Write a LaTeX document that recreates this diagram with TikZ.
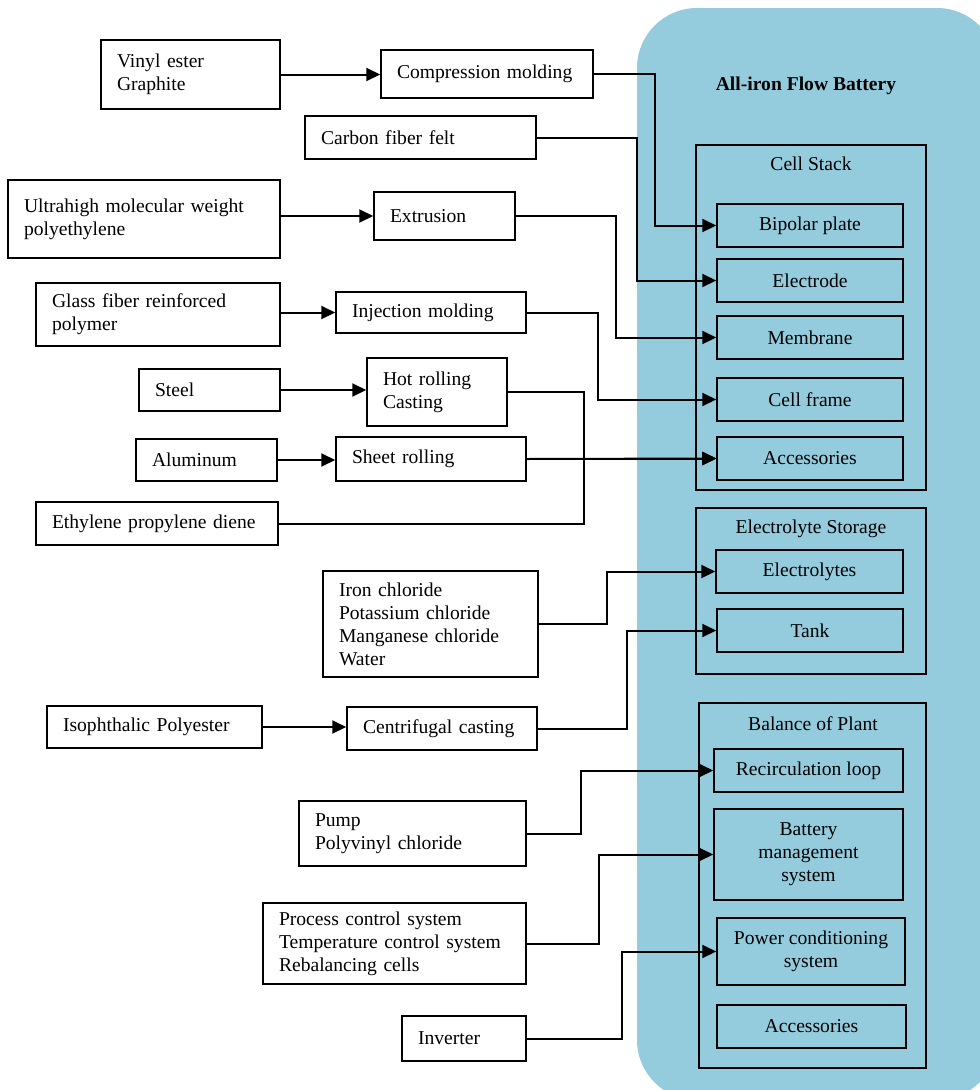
\documentclass[tikz,border=0pt]{standalone}
\usepackage{fontspec}
\setmainfont{Liberation Serif}
\usetikzlibrary{arrows.meta}
\definecolor{bgblue}{RGB}{148,204,221}
\begin{document}
\begin{tikzpicture}[x=1pt,y=-1pt,
  every node/.style={font=\fontsize{19.6}{23}\selectfont},
  lbox/.style={draw, line width=1.5pt, fill=white, inner xsep=16pt, inner ysep=2pt, align=left},
  rbox/.style={draw, line width=1.5pt, inner sep=2pt, align=center, minimum width=186pt, minimum height=43pt},
  cont/.style={draw, line width=1.5pt, inner sep=0pt},
  conn/.style={line width=2pt},
  arr/.style={conn, -{Triangle[length=14pt,width=13pt]}}
]
\useasboundingbox (0,0) rectangle (980,1090);
\begin{scope}
  \clip (0,0) rectangle (980,1090);
  \fill[bgblue, rounded corners=60pt] (637,8) rectangle (997,1100);
\end{scope}

% title
\node[font=\fontsize{19.6}{23}\selectfont\bfseries] (title) at (806,86) {All-iron Flow Battery};

% containers
\node[cont, minimum width=230pt, minimum height=345pt] (cs) at (811,317.5) {};
\node (csl) at (811,164) {Cell Stack};
\node[cont, minimum width=230pt, minimum height=166pt] (es) at (811,591) {};
\node (esl) at (811,529) {Electrolyte Storage};
\node[cont, minimum width=227pt, minimum height=365pt] (bop) at (812.5,885.5) {};
\node (bopl) at (813,724) {Balance of Plant};

% right boxes
\node[rbox] (bip) at (810,225.5) {Bipolar plate};
\node[rbox] (elec) at (810,280.5) {Electrode};
\node[rbox] (mem) at (810,337.5) {Membrane};
\node[rbox] (cf) at (810,399.5) {Cell frame};
\node[rbox] (acca) at (810,458.5) {Accessories};
\node[rbox, minimum width=187pt] (ely) at (809.5,571.5) {Electrolytes};
\node[rbox] (tank) at (810,630.5) {Tank};
\node[rbox, minimum width=189pt] (rec) at (808.5,770.5) {Recirculation loop};
\node[rbox, minimum width=189pt, minimum height=91pt] (bms) at (808.5,854.5) {Battery\\management\\system};
\node[rbox, minimum width=188pt, minimum height=67pt] (pcs) at (811,951.5) {Power conditioning\\system};
\node[rbox, minimum width=189pt] (accb) at (811.5,1026.5) {Accessories};

% left boxes
\node[lbox, minimum width=179pt, text width=147pt, minimum height=69pt] (vin) at (190.5,74.5) {Vinyl ester\\Graphite};
\node[lbox, minimum width=212pt, text width=180pt, minimum height=48pt] (comp) at (487,74) {Compression molding};
\node[lbox, minimum width=231pt, text width=199pt, minimum height=43pt] (cfelt) at (420.5,137.5) {Carbon fiber felt};
\node[lbox, minimum width=272pt, text width=240pt, minimum height=78pt] (uhm) at (144,219) {Ultrahigh molecular weight\\polyethylene};
\node[lbox, minimum width=141pt, text width=109pt, minimum height=48pt] (ext) at (444.5,216) {Extrusion};
\node[lbox, minimum width=244pt, text width=212pt, minimum height=63pt] (gla) at (158,314.5) {Glass fiber reinforced\\polymer};
\node[lbox, minimum width=190pt, text width=158pt, minimum height=41pt] (inj) at (431,312.5) {Injection molding};
\node[lbox, minimum width=141pt, text width=109pt, minimum height=42pt] (ste) at (209.5,390) {Steel};
\node[lbox, minimum width=140pt, text width=108pt, minimum height=68pt] (hot) at (437,392) {Hot rolling\\Casting};
\node[lbox, minimum width=141pt, text width=109pt, minimum height=42pt] (alu) at (206.5,460) {Aluminum};
\node[lbox, minimum width=190pt, text width=158pt, minimum height=44pt] (she) at (431,459) {Sheet rolling};
\node[lbox, minimum width=242pt, text width=210pt, minimum height=43pt] (eth) at (157,523.5) {Ethylene propylene diene};
\node[lbox, minimum width=215pt, text width=183pt, minimum height=106pt] (iron) at (430.5,624) {Iron chloride\\Potassium chloride\\Manganese chloride\\Water};
\node[lbox, minimum width=215pt, text width=183pt, minimum height=42pt] (iso) at (154.5,727) {Isophthalic Polyester};
\node[lbox, minimum width=190pt, text width=158pt, minimum height=43pt] (cen) at (442,728.5) {Centrifugal casting};
\node[lbox, minimum width=227pt, text width=195pt, minimum height=65pt] (pump) at (412.5,833.5) {Pump\\Polyvinyl chloride};
\node[lbox, minimum width=263pt, text width=231pt, minimum height=81pt] (proc) at (394.5,943.5) {Process control system\\Temperature control system\\Rebalancing cells};
\node[lbox, minimum width=124pt, text width=92pt, minimum height=45pt] (inv) at (464,1038.5) {Inverter};

% junction coordinates
\coordinate (j1) at (655,0);
\coordinate (j2) at (637,0);
\coordinate (j3) at (616,0);
\coordinate (j4) at (598,0);
\coordinate (j5) at (584,0);
\coordinate (j6) at (607,0);
\coordinate (j7) at (627,0);
\coordinate (j8) at (581,0);
\coordinate (j9) at (599,0);
\coordinate (j10) at (622,0);

% material -> process
\draw[arr] (vin.east) -- (vin.east -| comp.west);
\draw[arr] (ext.west -| uhm.east) -- (ext.west);
\draw[arr] (inj.west -| gla.east) -- (inj.west);
\draw[arr] (ste.east) -- (ste.east -| hot.west);
\draw[arr] (alu.east) -- (alu.east -| she.west);
\draw[arr] (iso.east) -- (iso.east -| cen.west);

% process -> components
\draw[arr] (comp.east) -- (comp.east -| j1) |- (bip.west);
\draw[arr] (cfelt.east) -- (cfelt.east -| j2) |- (elec.west);
\draw[arr] (ext.east) -- (ext.east -| j3) |- (mem.west);
\draw[arr] (inj.east) -- (inj.east -| j4) |- (cf.west);
\draw[arr] (hot.east) -- (hot.east -| j5) |- (acca.west);
\draw[arr] (she.east) -- (acca.west);
\draw[arr] (eth.east) -- (eth.east -| j5) |- (acca.west);
\draw[arr] (iron.east) -- (iron.east -| j6) |- (ely.west);
\draw[arr] (cen.east) -- (cen.east -| j7) |- (tank.west);
\draw[arr] (pump.east) -- (pump.east -| j8) |- (rec.west);
\draw[arr] (proc.east) -- (proc.east -| j9) |- (bms.west);
\draw[arr] (inv.east) -- (inv.east -| j10) |- (pcs.west);
\end{tikzpicture}
\end{document}
